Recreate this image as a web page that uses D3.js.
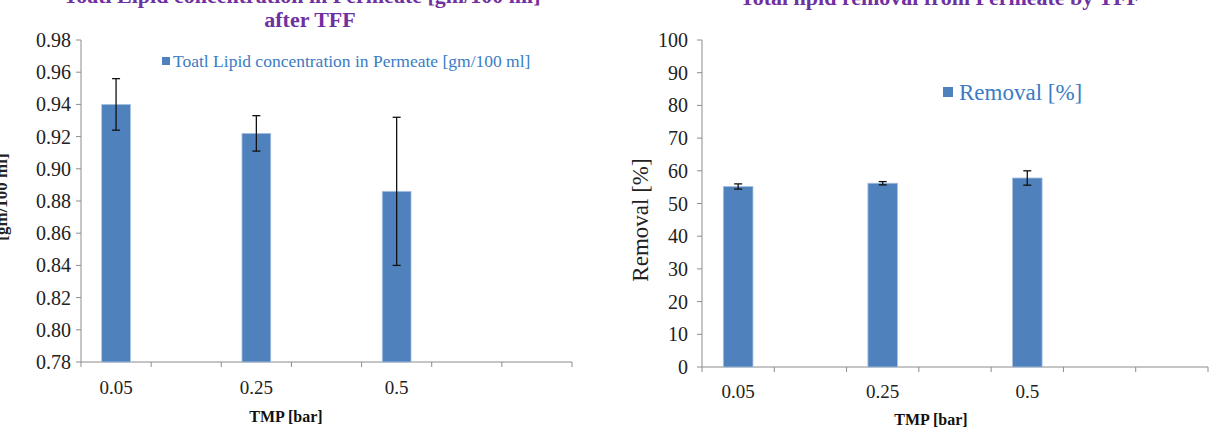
<!DOCTYPE html>
<html>
<head>
<meta charset="utf-8">
<script src="https://cdn.jsdelivr.net/npm/d3@7"></script>
<style>
  body { margin: 0; background: #fff; }
  svg { display: block; font-family: "Liberation Serif", "Times New Roman", serif; }
</style>
</head>
<body>
<svg id="chart" width="1222" height="436"></svg>
<script>
// category slots on the x axis (Excel left empty slots after each value)
const tmpLabels = ["0.05", "", "0.25", "", "0.5", "", ""];

const lipidValues = [0.940, null, 0.922, null, 0.886, null, null];
const lipidErrors = [0.016, null, 0.011, null, 0.046, null, null];
const lipidTicks = [0.78, 0.80, 0.82, 0.84, 0.86, 0.88, 0.90, 0.92, 0.94, 0.96, 0.98];

const removalValues = [55.2, null, 56.2, null, 57.8, null, null];
const removalErrors = [0.8, null, 0.5, null, 2.2, null, null];
const removalTicks = [0, 10, 20, 30, 40, 50, 60, 70, 80, 90, 100];

const svg = d3.select("#chart");
const barColor = "#4f81bd";
const axisColor = "#8c8c8c";

function drawPanel(o) {
    const x = d3.scaleBand().domain(d3.range(tmpLabels.length)).range([o.x0, o.x1]);
    const y = d3.scaleLinear().domain(o.domain).range([o.y0, o.y1]);
    const g = svg.append("g");

    // y axis
    g.append("line")
        .attr("x1", o.x0).attr("x2", o.x0)
        .attr("y1", y(o.domain[0])).attr("y2", y(o.domain[1]))
        .attr("stroke", axisColor);
    g.selectAll(".ytick").data(o.ticks).join("line")
        .attr("x1", o.x0 - 5).attr("x2", o.x0)
        .attr("y1", d => y(d)).attr("y2", d => y(d))
        .attr("stroke", axisColor);
    g.selectAll(".ylab").data(o.ticks).join("text")
        .attr("x", o.x0 - o.yLabDx).attr("y", d => y(d))
        .attr("dy", "0.35em")
        .attr("text-anchor", "end")
        .attr("font-size", 20)
        .attr("fill", "#222")
        .text(o.fmt);

    // x axis, ticks at slot boundaries
    const bounds = x.domain().map(d => x(d)).concat([o.x1]);
    g.append("line")
        .attr("x1", o.x0).attr("x2", o.x1)
        .attr("y1", o.y0).attr("y2", o.y0)
        .attr("stroke", axisColor);
    g.selectAll(".xtick").data(bounds).join("line")
        .attr("x1", d => d).attr("x2", d => d)
        .attr("y1", o.y0).attr("y2", o.y0 + 5)
        .attr("stroke", axisColor);
    g.selectAll(".xlab").data(tmpLabels).join("text")
        .attr("x", (d, i) => x(i) + x.bandwidth() / 2)
        .attr("y", o.y0 + o.xLabDy)
        .attr("text-anchor", "middle")
        .attr("font-size", 19)
        .attr("fill", "#222")
        .text(d => d);

    // bars
    const rows = o.values.map((v, i) => ({i, v, e: o.errors[i]})).filter(d => d.v !== null);
    const bw = x.bandwidth() * 0.41;
    g.selectAll(".bar").data(rows).join("rect")
        .attr("x", d => x(d.i) + (x.bandwidth() - bw) / 2)
        .attr("y", d => y(d.v))
        .attr("width", bw)
        .attr("height", d => o.y0 - y(d.v))
        .attr("fill", barColor)
        .attr("stroke", "#a9c1e0")
        .attr("stroke-width", 0.8);

    // error bars
    const cx = d => x(d.i) + x.bandwidth() / 2;
    const eg = g.selectAll(".err").data(rows).join("g").attr("stroke", "#111").attr("stroke-width", 1.3);
    eg.append("line").attr("x1", cx).attr("x2", cx)
        .attr("y1", d => y(d.v + d.e)).attr("y2", d => y(d.v - d.e));
    eg.append("line").attr("x1", d => cx(d) - 4).attr("x2", d => cx(d) + 4)
        .attr("y1", d => y(d.v + d.e)).attr("y2", d => y(d.v + d.e));
    eg.append("line").attr("x1", d => cx(d) - 4).attr("x2", d => cx(d) + 4)
        .attr("y1", d => y(d.v - d.e)).attr("y2", d => y(d.v - d.e));

    // x title
    g.append("text")
        .attr("x", o.xTitleX).attr("y", o.y0 + o.xTitleDy)
        .attr("text-anchor", "middle")
        .attr("font-size", 16).attr("font-weight", "bold")
        .attr("fill", "#111")
        .text("TMP [bar]");

    // legend
    g.append("rect")
        .attr("x", o.legX).attr("y", o.legY - o.legSize / 2)
        .attr("width", o.legSize).attr("height", o.legSize)
        .attr("fill", barColor);
    g.append("text")
        .attr("x", o.legX + o.legSize + o.legGap).attr("y", o.legY)
        .attr("dy", "0.35em")
        .attr("font-size", o.legFont)
        .attr("fill", "#3a7cc4")
        .text(o.legText);
}

drawPanel({
    x0: 81, x1: 572, y0: 362, y1: 40,
    domain: [0.78, 0.98], ticks: lipidTicks, fmt: d3.format(".2f"),
    values: lipidValues, errors: lipidErrors,
    yLabDx: 10, xLabDy: 32, xTitleX: 286, xTitleDy: 60,
    legX: 162, legY: 61, legSize: 8, legGap: 3, legFont: 17.5,
    legText: "Toatl Lipid concentration in Permeate [gm/100 ml]"
});

drawPanel({
    x0: 702, x1: 1208, y0: 367, y1: 40,
    domain: [0, 100], ticks: removalTicks, fmt: d3.format("d"),
    values: removalValues, errors: removalErrors,
    yLabDx: 14, xLabDy: 31, xTitleX: 931, xTitleDy: 58,
    legX: 943, legY: 92, legSize: 10, legGap: 6, legFont: 23,
    legText: "Removal [%]"
});

// titles (the first lines sit partly above the top edge, as in the source)
const titleFill = "#7030a0";
svg.append("text")
    .attr("x", 302).attr("y", 3)
    .attr("text-anchor", "middle")
    .attr("font-size", 22).attr("font-weight", "bold").attr("fill", titleFill)
    .text("Toatl Lipid concentration in Permeate [gm/100 ml]");
svg.append("text")
    .attr("x", 310).attr("y", 27)
    .attr("text-anchor", "middle")
    .attr("font-size", 22).attr("font-weight", "bold").attr("fill", titleFill)
    .text("after TFF");
svg.append("text")
    .attr("x", 940).attr("y", 5)
    .attr("text-anchor", "middle")
    .attr("font-size", 22).attr("font-weight", "bold").attr("fill", titleFill)
    .text("Total lipid removal from Permeate by TFF");

// y titles
svg.append("text")
    .attr("transform", "translate(7,197) rotate(-90)")
    .attr("text-anchor", "middle")
    .attr("font-size", 17).attr("font-weight", "bold").attr("fill", "#222")
    .text("[gm/100 ml]");
svg.append("text")
    .attr("transform", "translate(648,220) rotate(-90)")
    .attr("text-anchor", "middle")
    .attr("font-size", 23).attr("fill", "#222")
    .text("Removal [%]");
</script>
</body>
</html>
